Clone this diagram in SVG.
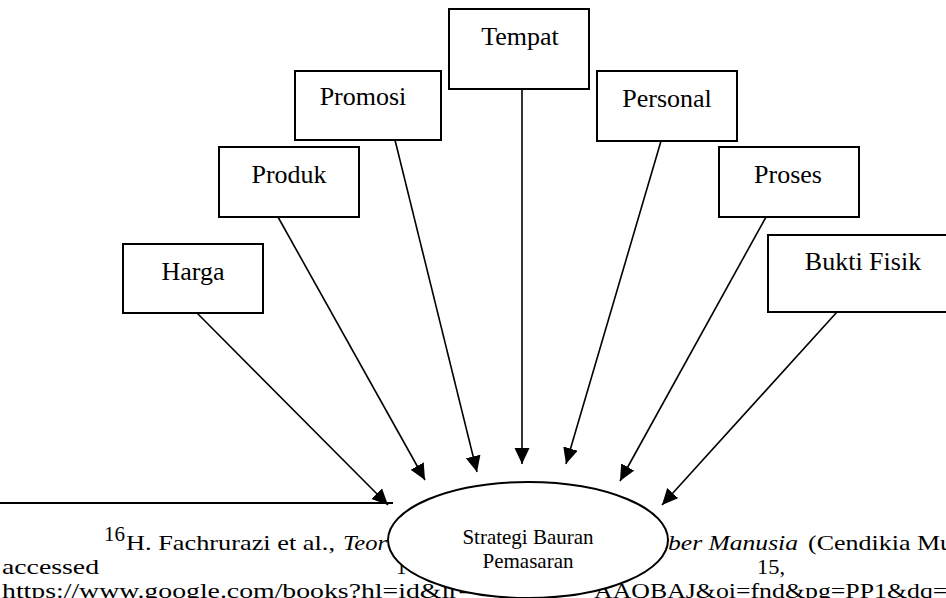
<svg xmlns="http://www.w3.org/2000/svg" width="946" height="598" viewBox="0 0 946 598">
<style>
.box{fill:#fff;stroke:#000;stroke-width:2}
.lbl{font-family:"Liberation Serif","Times New Roman",serif;font-size:26px;fill:#000;text-anchor:middle}
.elbl{font-family:"Liberation Serif","Times New Roman",serif;font-size:21px;fill:#000;text-anchor:middle}
.fn{font-family:"Liberation Serif","Times New Roman",serif;font-size:21px;fill:#000}
.it{font-style:italic}
.con{stroke:#000;stroke-width:1.6;fill:none;marker-end:url(#ah)}
</style>
<defs>
<marker id="ah" markerUnits="userSpaceOnUse" markerWidth="18" markerHeight="16" refX="16" refY="7.5" orient="auto">
<path d="M0,0 L16,7.5 L0,15 z" fill="#000"/>
</marker>
</defs>
<rect width="946" height="598" fill="#fff"/>
<g id="footnote">
<line x1="0" y1="503" x2="393" y2="503" stroke="#000" stroke-width="2"/>
<text class="fn" x="104" y="541" font-size="13">16</text>
<text class="fn" x="126" y="550" textLength="209" lengthAdjust="spacingAndGlyphs">H. Fachrurazi et al.,</text>
<text class="fn it" x="343" y="550" textLength="44" lengthAdjust="spacingAndGlyphs">Teor</text>
<text class="fn it" x="668" y="550" textLength="130" lengthAdjust="spacingAndGlyphs">ber Manusia</text>
<text class="fn" x="808" y="550" textLength="145" lengthAdjust="spacingAndGlyphs">(Cendikia Mu</text>
<text class="fn" x="2" y="574" textLength="97" lengthAdjust="spacingAndGlyphs">accessed</text>
<text class="fn" x="396" y="574">1</text>
<text class="fn" x="757" y="574" textLength="28" lengthAdjust="spacingAndGlyphs">15,</text>
<text class="fn" x="2" y="598" textLength="472" lengthAdjust="spacingAndGlyphs">https://www.google.com/books?hl=id&amp;lr=</text>
<text class="fn" x="594" y="598" textLength="362" lengthAdjust="spacingAndGlyphs">AAQBAJ&amp;oi=fnd&amp;pg=PP1&amp;dq=I</text>
</g>
<g id="connectors">
<line class="con" x1="197" y1="313" x2="388" y2="505"/>
<line class="con" x1="278" y1="217" x2="425" y2="480"/>
<line class="con" x1="395" y1="140" x2="477" y2="472"/>
<line class="con" x1="522" y1="89" x2="522" y2="464"/>
<line class="con" x1="661" y1="141" x2="566" y2="464"/>
<line class="con" x1="766" y1="217" x2="620" y2="481"/>
<line class="con" x1="837" y1="312" x2="662" y2="505"/>
</g>
<g id="harga"><rect class="box" x="123" y="244" width="140" height="69"/><text class="lbl" x="193" y="280">Harga</text></g>
<g id="produk"><rect class="box" x="219" y="147" width="140" height="70"/><text class="lbl" x="289" y="183">Produk</text></g>
<g id="promosi"><rect class="box" x="295" y="71" width="146" height="69"/><text class="lbl" x="363" y="105">Promosi</text></g>
<g id="tempat"><rect class="box" x="449" y="9" width="140" height="80"/><text class="lbl" x="520" y="45">Tempat</text></g>
<g id="personal"><rect class="box" x="597" y="71" width="140" height="70"/><text class="lbl" x="667" y="107">Personal</text></g>
<g id="proses"><rect class="box" x="719" y="147" width="140" height="70"/><text class="lbl" x="788" y="183">Proses</text></g>
<g id="bukti-fisik"><rect class="box" x="768" y="235" width="190" height="77"/><text class="lbl" x="863" y="270">Bukti Fisik</text></g>
<g id="strategi"><ellipse cx="528" cy="540" rx="140" ry="58" fill="#fff" stroke="#000" stroke-width="2"/>
<text class="elbl" x="528" y="544">Strategi Bauran</text>
<text class="elbl" x="528" y="568">Pemasaran</text></g>
</svg>
